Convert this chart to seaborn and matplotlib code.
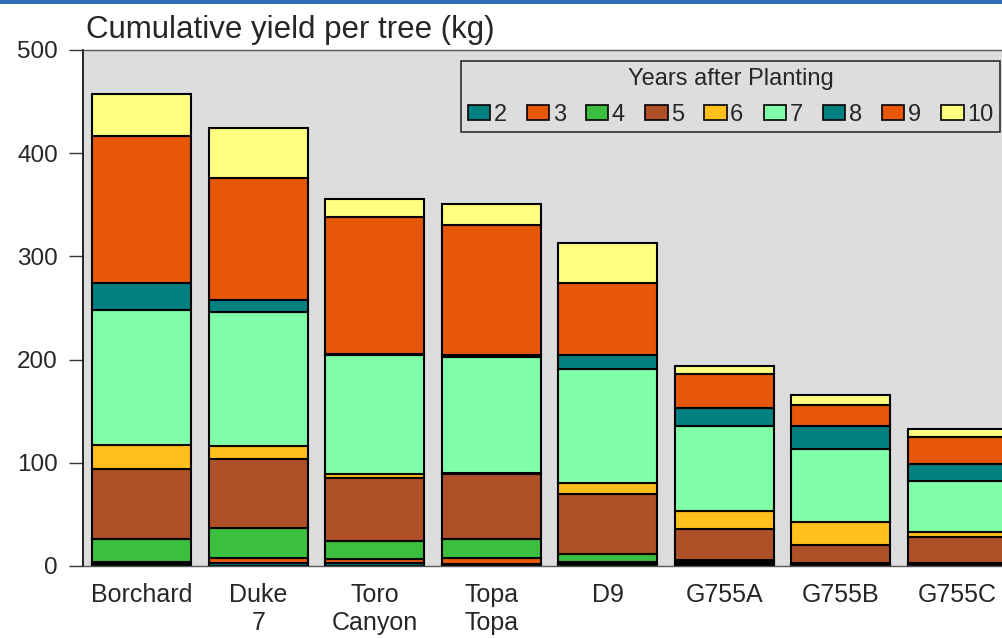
import matplotlib
matplotlib.use("Agg")
import matplotlib.pyplot as plt
from matplotlib.patches import Patch, Rectangle
import seaborn as sns
import pandas as pd
import numpy as np

cultivars = ["Borchard", "Duke\n7", "Toro\nCanyon", "Topa\nTopa", "D9", "G755A", "G755B", "G755C"]
years = ["2", "3", "4", "5", "6", "7", "8", "9", "10"]

y2 = [2, 3, 3, 2, 2, 2, 1, 1]
y3 = [2, 5, 4, 6, 2, 2, 1, 1]
y4 = [22, 29, 17, 18, 8, 2, 1, 1]
y5 = [68, 67, 61, 63, 58, 30, 17, 25]
y6 = [23, 12, 4, 1, 10, 17, 23, 5]
y7 = [131, 130, 115, 113, 111, 83, 70, 49]
y8 = [26, 12, 1, 1, 13, 17, 23, 17]
y9 = [143, 118, 133, 126, 70, 33, 20, 26]
y10 = [40, 48, 18, 21, 39, 8, 10, 8]

series = [y2, y3, y4, y5, y6, y7, y8, y9, y10]
colors = ["#008080", "#E65808", "#3CBF40", "#B05028", "#FFC01C",
          "#80FFA8", "#008080", "#E65808", "#FFFF80"]

sns.set_style("white")
plt.rcParams["font.family"] = ["Liberation Sans", "DejaVu Sans"]

fig = plt.figure(figsize=(10.03, 6.38), dpi=100)
ax = fig.add_axes([83 / 1003, 72 / 638, 932 / 1003, 516 / 638])
ax.set_facecolor("#DDDDDD")

bottom = np.zeros(len(cultivars))
for yr, vals, col in zip(years, series, colors):
    df = pd.DataFrame({"cultivar": cultivars, "kg": vals})
    sns.barplot(data=df, x="cultivar", y="kg", order=cultivars, color=col,
                width=0.85, bottom=bottom.copy(), edgecolor="black",
                linewidth=1.5, saturation=1, errorbar=None, ax=ax)
    bottom += np.array(vals)

ax.set_xlim(-0.505, 7.495)
ax.set_ylim(0, 500)
ax.set_yticks([0, 100, 200, 300, 400, 500])
ax.set_xlabel("")
ax.set_ylabel("")
ax.tick_params(axis="y", which="both", left=True, length=10, width=1,
               direction="out", labelsize=17.5, pad=8, color="#333333")
ax.tick_params(axis="x", bottom=False, labelsize=18, pad=9)
for s in ["top", "right", "bottom"]:
    ax.spines[s].set_color("#555555")
    ax.spines[s].set_linewidth(1)
ax.spines["left"].set_color("black")
ax.spines["left"].set_linewidth(1.2)

handles = [Patch(facecolor=c, edgecolor="black", linewidth=1.2) for c in colors]
leg = ax.legend(handles, years, title="Years after Planting", ncol=9,
                loc="upper left", bbox_to_anchor=(461 / 1003, 1 - 61 / 638),
                bbox_transform=fig.transFigure,
                fontsize=17, title_fontsize=17, frameon=True, fancybox=False,
                handlelength=0.95, handleheight=0.65, handletextpad=0.15,
                columnspacing=0.85, borderpad=0.28, labelspacing=0.6,
                borderaxespad=0)
leg.get_frame().set_edgecolor("black")
leg.get_frame().set_facecolor("#DDDDDD")
leg.get_frame().set_linewidth(1.2)

fig.text(86 / 1003, 1 - 30 / 638, "Cumulative yield per tree (kg)",
         fontsize=22.5, va="center", ha="left")

fig.patches.append(Rectangle((0, 1 - 4 / 638), 1, 4 / 638, transform=fig.transFigure,
                             facecolor="#2E6DB8", edgecolor="none", zorder=5))

fig.savefig("out.png", dpi=100)
